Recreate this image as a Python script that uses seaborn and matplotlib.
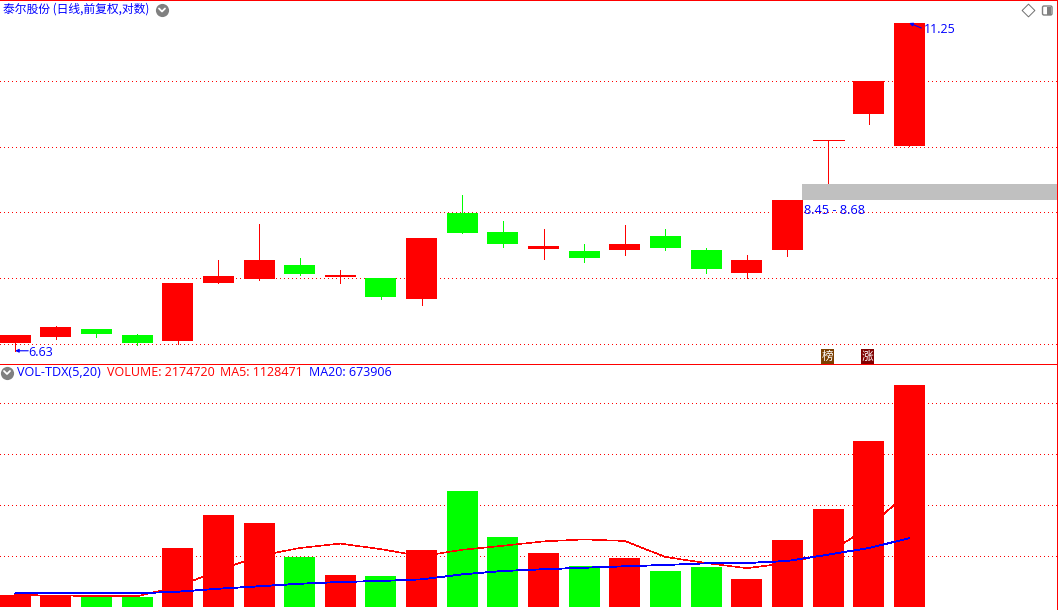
"""Daily candles (log price) and volume pane with MA5 / MA20, trading-terminal look."""

import matplotlib
matplotlib.use("Agg")
import matplotlib.pyplot as plt
from matplotlib.patches import FancyBboxPatch
import pandas as pd
import seaborn as sns

WIDTH, HEIGHT = 1058, 610
SPLIT = 364  # pixel row of the line between the two panes

RED = "#FF0000"
GREEN = "#00FF00"
BLUE = "#0000FF"
GREY = "#C0C0C0"

opens = [6.71, 6.78, 6.87, 6.80, 6.74, 7.40, 7.44, 7.61, 7.47, 7.46, 7.21, 8.28, 8.03, 7.81, 7.79, 7.80, 7.98, 7.80, 7.52, 7.80, 9.30, 9.71, 9.23]
closes = [6.80, 6.89, 6.81, 6.71, 7.40, 7.48, 7.68, 7.50, 7.49, 7.23, 7.95, 8.02, 7.88, 7.85, 7.70, 7.88, 7.83, 7.57, 7.68, 8.46, 9.32, 10.25, 11.25]
highs = [6.80, 6.90, 6.87, 6.81, 7.40, 7.68, 8.13, 7.70, 7.55, 7.46, 7.95, 8.52, 8.17, 8.07, 7.88, 8.12, 8.07, 7.83, 7.74, 8.46, 9.32, 10.25, 11.25]
lows = [6.63, 6.76, 6.78, 6.69, 6.70, 7.39, 7.43, 7.49, 7.40, 7.21, 7.14, 8.02, 7.84, 7.69, 7.65, 7.74, 7.80, 7.52, 7.46, 7.73, 8.69, 9.56, 9.23]
volumes = [117600, 107800, 98000, 98000, 578400, 902000, 823500, 490200, 313700, 303900, 558800, 1137300,
           686300, 529400, 402000, 480400, 352900, 392200, 274500, 656900, 960800, 1627500, 2174720]
ma5 = [117600, 112700, 107800, 105350, 200000, 356800, 500000, 578400, 621600, 566700, 498000, 560800,
       600000, 643100, 662800, 647100, 490200, 431400, 380400, 431300, 527500, 782400, 1128471]
ma20 = [134000, 134000, 134000, 134000, 150000, 179000, 203000, 228000, 245000, 255000, 271000, 320000,
        353000, 370000, 385000, 399000, 412000, 428000, 431000, 451000, 513000, 578000, 673906]
up_days = ["r", "r", "g", "g", "r", "r", "r", "g", "r", "g", "r", "g",
           "g", "r", "g", "r", "g", "g", "r", "r", "r", "r", "r"]

price_grid = [6.70, 7.46, 8.29, 9.21, 10.25]
volume_grid = [500000, 1000000, 1500000, 2000000]
band_low, band_high = 8.45, 8.68
low_price, high_price = 6.63, 11.25

CANDLE_STEP = 40.64
BODY_WIDTH = 31 / CANDLE_STEP
XLIM = (-15.2 / CANDLE_STEP, (WIDTH - 15.2) / CANDLE_STEP)

sns.set_theme(style="white")
plt.rcParams["font.family"] = ["Noto Sans CJK SC", "DejaVu Sans"]
latin = ["Open Sans", "DejaVu Sans"]

df = pd.DataFrame({"day": range(len(volumes)), "open": opens, "close": closes, "high": highs,
                   "low": lows, "volume": volumes, "ma5": ma5, "ma20": ma20, "dir": up_days})

fig = plt.figure(figsize=(WIDTH / 100, HEIGHT / 100), dpi=100)
ax_price = fig.add_axes([0, (HEIGHT - SPLIT) / HEIGHT, 1, SPLIT / HEIGHT])
ax_vol = fig.add_axes([0, 0, 1, (HEIGHT - SPLIT) / HEIGHT])
dots = (0, (1, 3))

# --- price pane
ax_price.set_yscale("log")
ax_price.set_ylim(6.49, 11.675)
ax_price.set_xlim(*XLIM)
ax_price.hlines(price_grid, *XLIM, color=RED, lw=0.72, linestyle=dots, antialiased=False, zorder=1)
ax_price.fill_between([19.35, XLIM[1]], band_low, band_high, color=GREY, lw=0, zorder=1.5)
colors = df["dir"].map({"r": RED, "g": GREEN})
ax_price.vlines(df["day"], df["low"], df["high"], colors=colors, lw=0.72, antialiased=False, zorder=2)
ax_price.bar(df["day"], (df["close"] - df["open"]).abs(), bottom=df[["open", "close"]].min(axis=1),
             width=BODY_WIDTH, color=colors, lw=0, antialiased=False, zorder=3)
ax_price.hlines(closes[20], 20 - BODY_WIDTH / 2, 20 + BODY_WIDTH / 2, color=RED, lw=0.72, antialiased=False, zorder=3)

ax_price.annotate("", xy=(0, low_price), xytext=(13, 0), textcoords="offset pixels",
                  arrowprops=dict(arrowstyle="-|>", color=BLUE, lw=0.8, mutation_scale=5, shrinkA=0, shrinkB=0))
ax_price.annotate(f"{low_price:.2f}", xy=(0, low_price), xytext=(13, -2), textcoords="offset pixels",
                  color=BLUE, fontsize=9, family=latin, va="center")
ax_price.annotate("", xy=(22, high_price), xytext=(12, -5), textcoords="offset pixels",
                  arrowprops=dict(arrowstyle="-|>", color=BLUE, lw=0.8, mutation_scale=5, shrinkA=0, shrinkB=0), zorder=5)
ax_price.annotate(f"{high_price:.2f}", xy=(22, high_price), xytext=(15, -7), textcoords="offset pixels",
                  color=BLUE, fontsize=9, family=latin, va="center", zorder=5)
ax_price.annotate(f"{band_low:.2f} - {band_high:.2f}", xy=(19.35, band_low), xytext=(2, -10), textcoords="offset pixels",
                  color=BLUE, fontsize=9.2, family=latin, va="center", zorder=5)

# --- volume pane
sns.barplot(data=df, x="day", y="volume", hue="dir", palette={"r": RED, "g": GREEN}, dodge=False,
            width=BODY_WIDTH, saturation=1, legend=False, linewidth=0, zorder=3, ax=ax_vol)
ax_vol.hlines(volume_grid, *XLIM, color=RED, lw=0.72, linestyle=dots, antialiased=False, zorder=1)
sns.lineplot(data=df, x="day", y="ma5", color=RED, lw=0.4, errorbar=None, legend=False,
             antialiased=False, zorder=4, ax=ax_vol)
sns.lineplot(data=df, x="day", y="ma20", color=BLUE, lw=0.6, errorbar=None, legend=False,
             antialiased=False, zorder=5, ax=ax_vol)
ax_vol.set_xlim(*XLIM)
ax_vol.set_ylim(-29400, 2382000)

for ax in (ax_price, ax_vol):
    ax.set_xlabel("")
    ax.set_ylabel("")
    ax.set_xticks([])
    ax.set_yticks([])
    ax.minorticks_off()
    ax.set_facecolor("white")
    for spine in ax.spines.values():
        spine.set_visible(False)

# --- frame, headers and icons drawn in pixel coordinates
ui = fig.add_axes([0, 0, 1, 1], facecolor="none")
ui.set_xlim(0, WIDTH)
ui.set_ylim(HEIGHT, 0)
ui.axis("off")
ui.plot([0, WIDTH], [0.2, 0.2], color=RED, lw=0.72, antialiased=False, clip_on=False)
ui.plot([0, WIDTH], [SPLIT + 0.2, SPLIT + 0.2], color=RED, lw=0.72, antialiased=False)
ui.plot([1056.5, 1056.5], [0, HEIGHT], color=RED, lw=0.72, antialiased=False)

ui.text(3, 9.5, "泰尔股份 (日线,前复权,对数)", color=BLUE, fontsize=8.5, va="center")
ui.text(17, 372.8, "VOL-TDX(5,20)", color=BLUE, fontsize=9.1, family=latin, va="center")
ui.text(107, 372.8, "VOLUME: 2174720", color=RED, fontsize=9, family=latin, va="center")
ui.text(220, 372.8, "MA5: 1128471", color=RED, fontsize=9, family=latin, va="center")
ui.text(309, 372.8, "MA20: 673906", color=BLUE, fontsize=9, family=latin, va="center")

for cx, cy in [(162, 10), (7, 372.5)]:
    ui.scatter([cx], [cy], s=90, color="#808080", lw=0, zorder=6)
    ui.plot([cx - 3, cx, cx + 3], [cy - 1.5, cy + 1.5, cy - 1.5], color="white", lw=1.3, zorder=7)

ui.scatter([1028], [10], marker="D", s=42, facecolor="white", edgecolor="#707070", lw=0.7)
ui.add_patch(FancyBboxPatch((1042.5, 6), 9.5, 9, boxstyle="round,pad=0,rounding_size=1.5",
                            facecolor="white", edgecolor="#808080", lw=1))
ui.add_patch(plt.Rectangle((1047, 6.5), 3.5, 8, facecolor="#808080", lw=0))

ui.text(827.5, 356.5, "榜", color="white", fontsize=8.4, ha="center", va="center",
        bbox=dict(boxstyle="square,pad=0.06", facecolor="#7B3F00", lw=0))
ui.text(867.5, 356.5, "涨", color="white", fontsize=8.4, ha="center", va="center",
        bbox=dict(boxstyle="square,pad=0.06", facecolor="#800000", lw=0))

fig.savefig("out.png", dpi=100)
